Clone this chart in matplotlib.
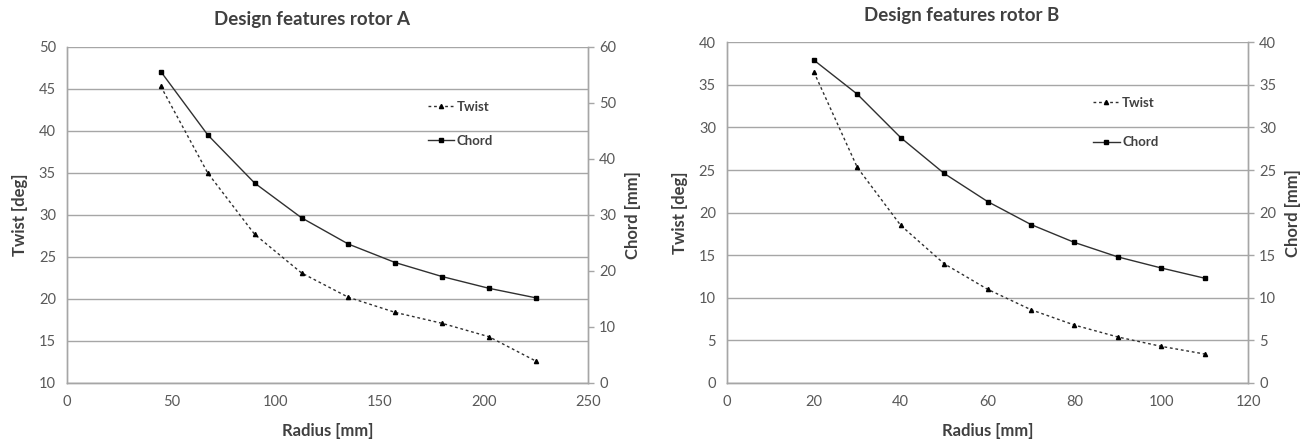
import matplotlib.pyplot as plt

# Rotor A
radius_a = [45, 67.5, 90, 112.5, 135, 157.5, 180, 202.5, 225]
twist_a = [45.3, 35.0, 27.7, 23.1, 20.2, 18.4, 17.1, 15.5, 12.6]
chord_a = [55.6, 44.3, 35.7, 29.5, 24.8, 21.5, 19.0, 16.9, 15.2]

# Rotor B
radius_b = [20, 30, 40, 50, 60, 70, 80, 90, 100, 110]
twist_b = [36.5, 25.3, 18.5, 14.0, 11.0, 8.6, 6.8, 5.4, 4.3, 3.4]
chord_b = [37.9, 33.9, 28.8, 24.6, 21.3, 18.6, 16.5, 14.8, 13.5, 12.3]

plt.rcParams['font.family'] = ['Lato', 'DejaVu Sans']

GRID = '#a6a6a6'
TXT = '#595959'
LINE = '#303030'


def rotor_panel(fig, rect, r, tw, ch, xlim, xstep, tlim, tstep, clim, cstep,
                title, title_dx, title_pad, leg_anchor, leg_space):
    ax = fig.add_axes(rect)
    ax2 = ax.twinx()
    l1, = ax.plot(r, tw, color=LINE, lw=1.0, ls=(0, (2, 2)), marker='^',
                  ms=3, mfc='black', mec='black', label='Twist')
    l2, = ax2.plot(r, ch, color=LINE, lw=1.0, marker='s', ms=3.3,
                   mfc='black', mec='black', label='Chord')
    ax.set_xlim(*xlim)
    ax.set_ylim(*tlim)
    ax2.set_ylim(*clim)
    ax.set_xticks(range(xlim[0], xlim[1] + 1, xstep))
    ax.set_yticks(range(tlim[0], tlim[1] + 1, tstep))
    ax2.set_yticks(range(clim[0], clim[1] + 1, cstep))
    ax.grid(axis='y', color=GRID, lw=1)
    ax.set_axisbelow(True)
    for a in (ax, ax2):
        a.spines['top'].set_visible(False)
        for s in ('left', 'right', 'bottom'):
            a.spines[s].set_color(GRID)
            a.spines[s].set_linewidth(1)
    ax.tick_params(axis='both', colors=GRID, labelcolor=TXT, labelsize=10.5,
                   length=0)
    ax.tick_params(axis='x', pad=9)
    ax.tick_params(axis='y', pad=8)
    ax2.tick_params(axis='y', colors=GRID, labelcolor=TXT, labelsize=10.5,
                    length=4, width=1, pad=4)
    ax.set_xlabel('Radius [mm]', fontsize=12, fontweight='bold',
                  color='#404040', labelpad=10)
    ax.set_ylabel('Twist [deg]', fontsize=12, fontweight='bold',
                  color='#404040', labelpad=8)
    ax2.set_ylabel('Chord [mm]', fontsize=12, fontweight='bold',
                   color='#404040', labelpad=6)
    ax.set_title(title, fontsize=13.5, fontweight='bold', color='#404040',
                 x=0.5 + title_dx, pad=title_pad)
    leg = ax2.legend([l1, l2], ['Twist', 'Chord'], loc='upper left',
                     bbox_to_anchor=leg_anchor, frameon=False,
                     handlelength=2.0, handletextpad=0.2,
                     labelspacing=leg_space, borderpad=0,
                     prop={'weight': 'bold', 'size': 9.5})
    for t in leg.get_texts():
        t.set_color('#404040')
    return ax, ax2


fig = plt.figure(figsize=(13.15, 4.46), dpi=100)

rotor_panel(fig, [0.0510, 0.1413, 0.3962, 0.7534], radius_a, twist_a, chord_a,
            (0, 250), 50, (10, 50), 5, (0, 60), 10,
            'Design features rotor A', -0.03, 16, (0.68, 0.86), 1.7)
rotor_panel(fig, [0.5529, 0.1413, 0.3962, 0.7640], radius_b, twist_b, chord_b,
            (0, 120), 20, (0, 40), 5, (0, 40), 5,
            'Design features rotor B', -0.05, 15, (0.69, 0.86), 2.1)

fig.savefig('out.png', dpi=100)
